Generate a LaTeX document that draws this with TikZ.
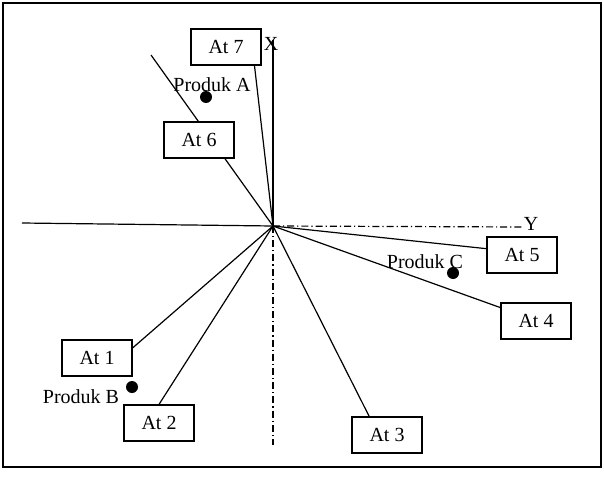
\documentclass[tikz,border=0pt]{standalone}
\usepackage{fontspec}
\setmainfont{Liberation Serif}
\usetikzlibrary{calc}
\pgfdeclarelayer{bg}
\pgfsetlayers{bg,main}
\begin{document}
\begin{tikzpicture}[x=0.5pt,y=-0.5pt,
  every node/.style={font=\fontsize{10}{12}\selectfont},
  atbox/.style={draw,fill=white,line width=0.6pt,minimum width=35pt,minimum height=18pt,inner sep=0pt},
  conn/.style={line width=0.6pt},
  dashdot/.style={line width=0.6pt,dash pattern=on 3.5pt off 1.5pt on 0.6pt off 1.5pt},
  dot/.style={circle,fill=black,minimum size=6pt,inner sep=0pt},
  lbl/.style={inner sep=0pt}]
\useasboundingbox (0,0) rectangle (604,492);
\draw[line width=0.8pt] (3,3) rectangle (601,467);
\coordinate (O) at (273,226);
\coordinate (ytop) at (273,40);
\coordinate (xleft) at (22,223);
\coordinate (yright) at (522,227);
\coordinate (ybot) at (273,445);
\coordinate (tip6) at (151,55);
% boxes
\node[atbox] (a7) at (226,47) {At 7};
\node[atbox] (a6) at (199,140) {At 6};
\node[atbox] (a5) at (522,255) {At 5};
\node[atbox] (a4) at (536,321) {At 4};
\node[atbox] (a3) at (387,435) {At 3};
\node[atbox] (a2) at (159,423) {At 2};
\node[atbox] (a1) at (97,358) {At 1};
% axes labels
\node[lbl] (xl) at (271,44) {X};
\node[lbl] (yl) at (531,224) {Y};
\begin{pgfonlayer}{bg}
\draw[conn] (O) -- (ytop);
\draw[conn] (O) -- (xleft);
\draw[dashdot] (O) -- (yright);
\draw[dashdot] (O) -- (ybot);
\draw[conn] (O) -- ($(a7.south west)!0.9!(a7.south east)$);
\draw[conn] (O) -- (tip6);
\draw[conn] (O) -- ($(a1.north east)!0.23!(a1.south east)$);
\draw[conn] (O) -- (a2.north);
\draw[conn] (O) -- ($(a3.north west)!0.25!(a3.north east)$);
\draw[conn] (O) -- ($(a4.north west)!0.14!(a4.south west)$);
\draw[conn] (O) -- ($(a5.north west)!0.33!(a5.south west)$);
\end{pgfonlayer}
% products
\node[dot] (pa) at (206,97) {};
\node[lbl] (pal) at (212,85) {Produk A};
\node[dot] (pc) at (453,273) {};
\node[lbl] (pcl) at (425,262) {Produk C};
\node[dot] (pb) at (132,387) {};
\node[lbl] (pbl) at (81,397) {Produk B};
\end{tikzpicture}
\end{document}
